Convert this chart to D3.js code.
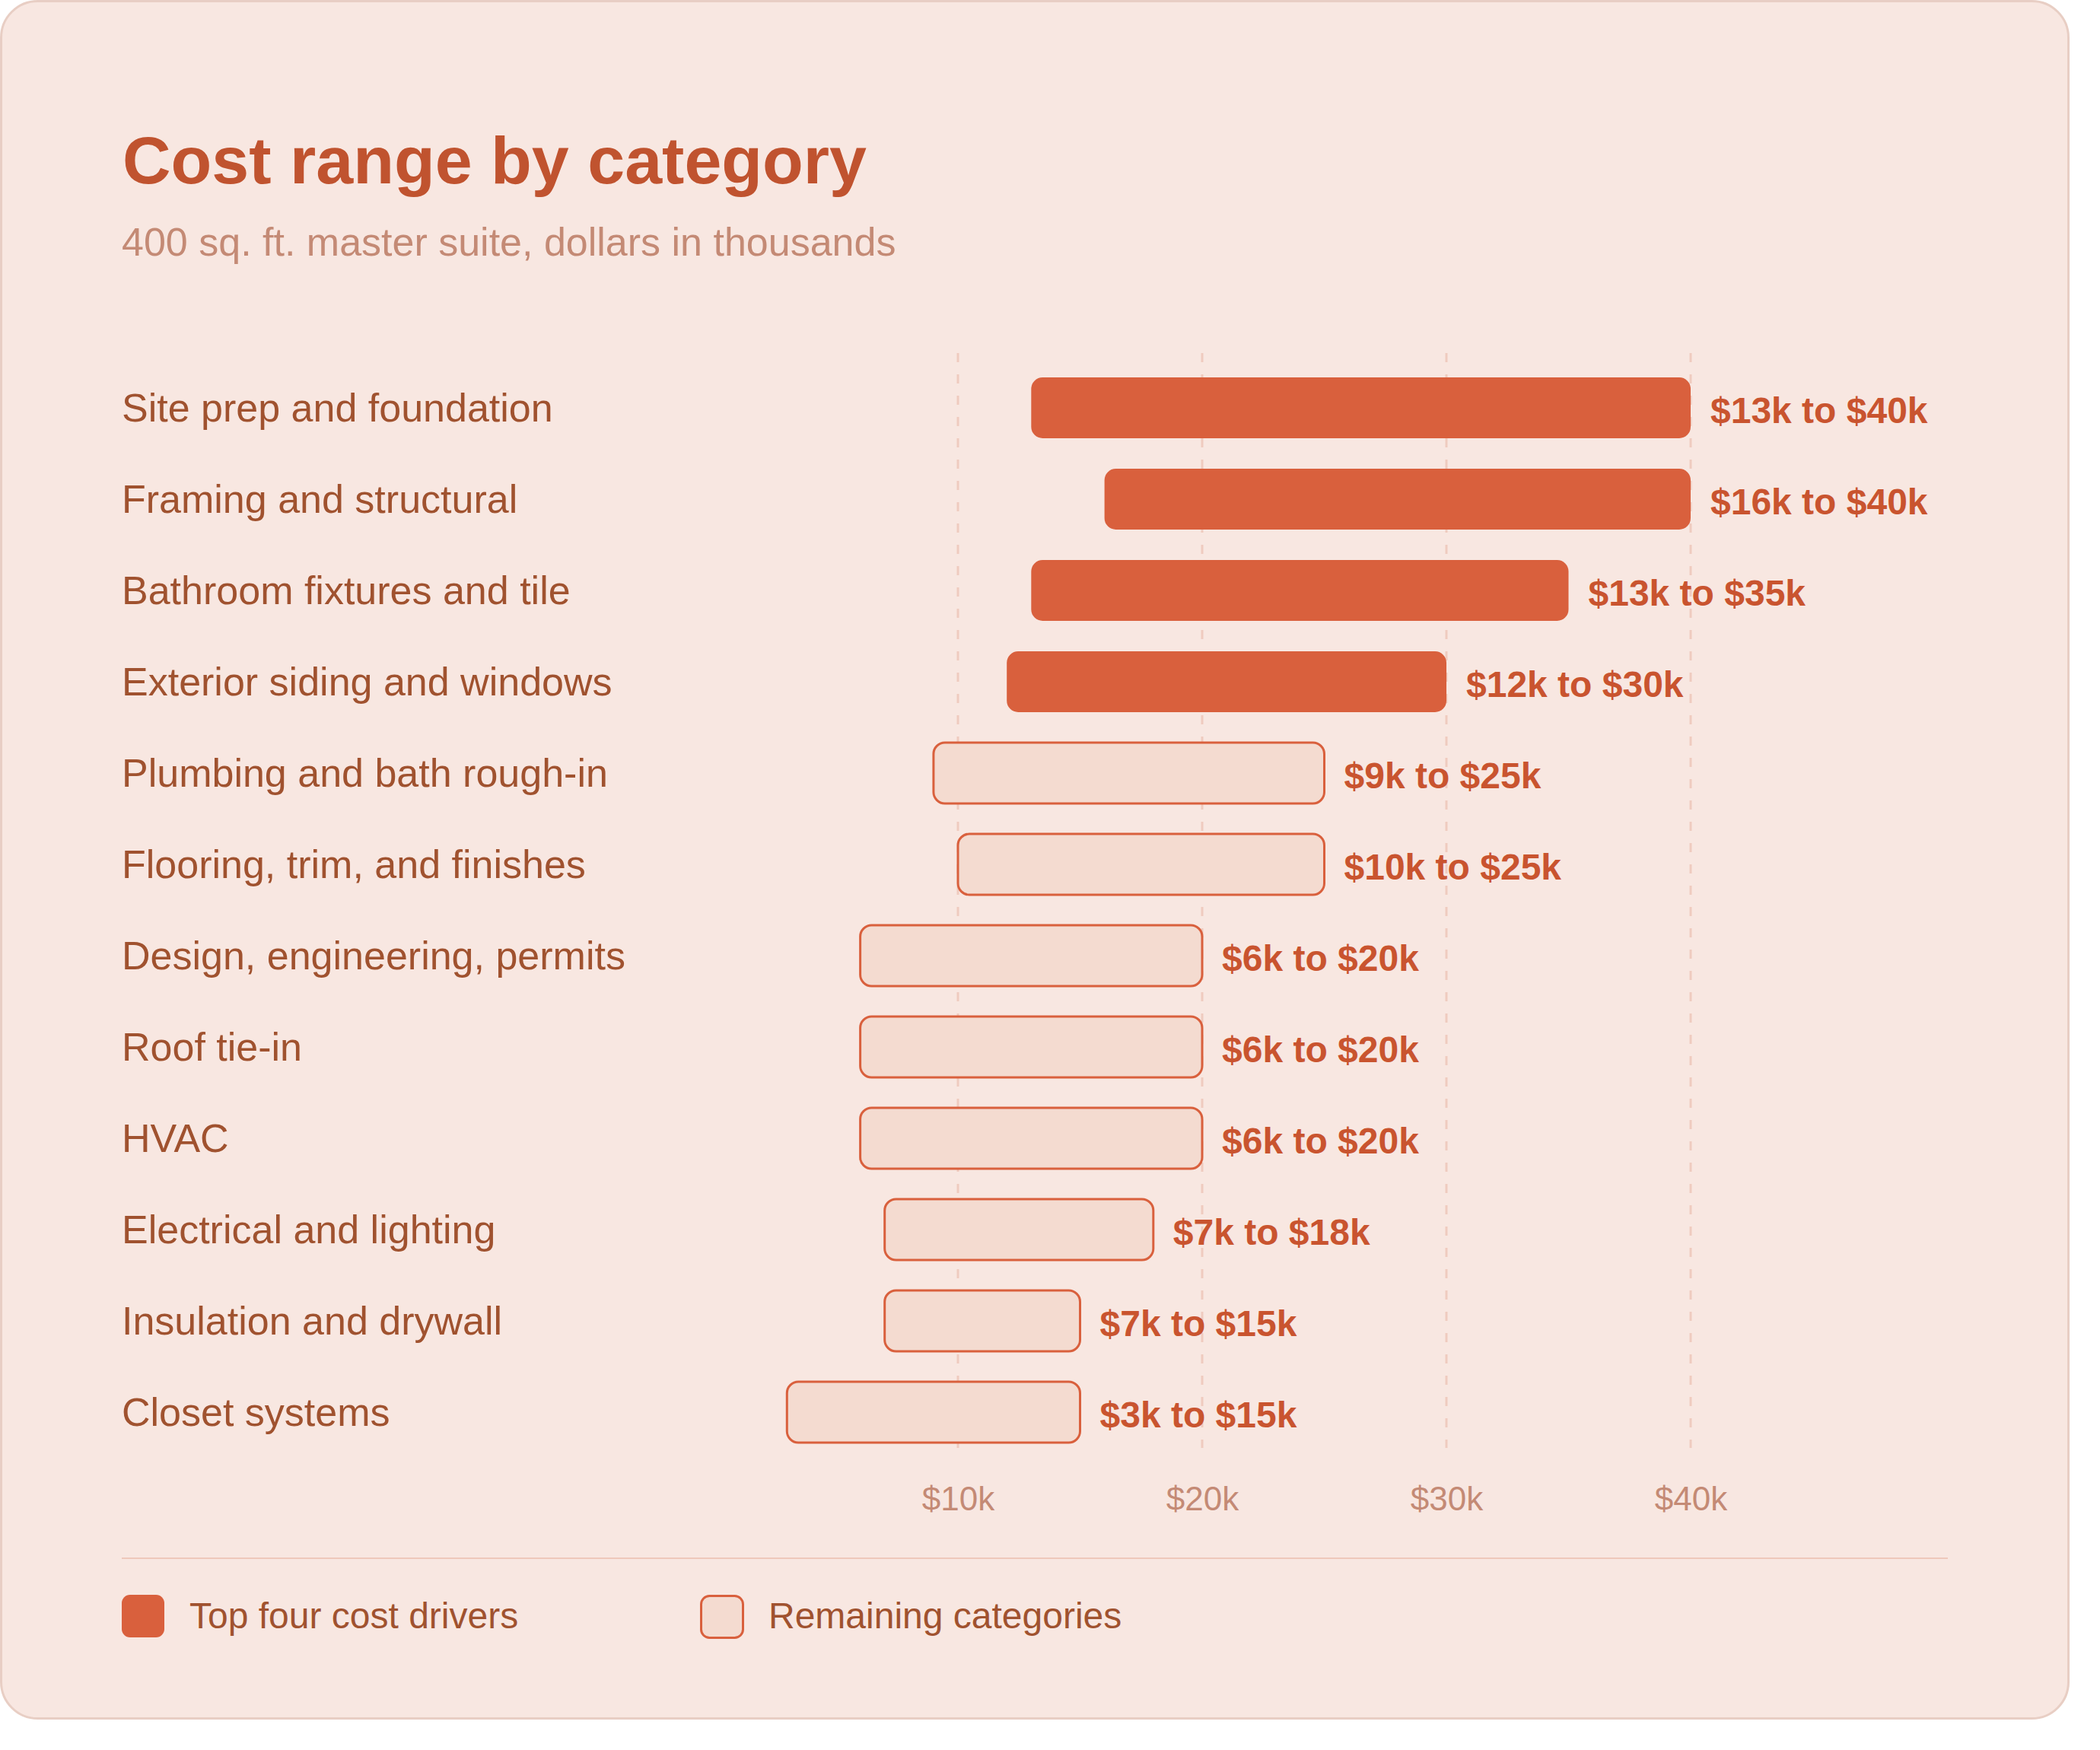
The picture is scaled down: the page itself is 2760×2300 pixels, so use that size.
<!DOCTYPE html>
<html>
<head>
<meta charset="utf-8">
<script src="https://cdn.jsdelivr.net/npm/d3@7"></script>
<style>
  html, body { margin: 0; padding: 0; background: #ffffff; }
  svg { display: block; }
  text { font-family: "Liberation Sans", Arial, Helvetica, sans-serif; }
</style>
</head>
<body>
<svg id="chart" width="2760" height="2300"></svg>
<script>
const categories = [
  "Site prep and foundation",
  "Framing and structural",
  "Bathroom fixtures and tile",
  "Exterior siding and windows",
  "Plumbing and bath rough-in",
  "Flooring, trim, and finishes",
  "Design, engineering, permits",
  "Roof tie-in",
  "HVAC",
  "Electrical and lighting",
  "Insulation and drywall",
  "Closet systems"
];
const lowValues  = [13, 16, 13, 12, 9, 10, 6, 6, 6, 7, 7, 3];
const highValues = [40, 40, 35, 30, 25, 25, 20, 20, 20, 18, 15, 15];
const isTopDriver = [true, true, true, true, false, false, false, false, false, false, false, false];
const tickValues = [10, 20, 30, 40];
const legendLabels = ["Top four cost drivers", "Remaining categories"];
const titleText = "Cost range by category";
const subtitleText = "400 sq. ft. master suite, dollars in thousands";

const rows = categories.map((c, i) => ({
  cat: c, lo: lowValues[i], hi: highValues[i], top: isTopDriver[i]
}));

const C = {
  card: "#f8e7e1", cardStroke: "#e8cec4",
  title: "#c0532f", sub: "#c48a75",
  label: "#a0522f", bar: "#d9603d", light: "#f4dbd0",
  value: "#c9542f", grid: "#efcbbf", rule: "#efc8bb"
};

const svg = d3.select("#chart");

svg.append("rect")
  .attr("x", 1.5).attr("y", 1.5)
  .attr("width", 2717).attr("height", 2257)
  .attr("rx", 48).attr("ry", 48)
  .attr("fill", C.card).attr("stroke", C.cardStroke).attr("stroke-width", 3);

svg.append("text").attr("x", 161).attr("y", 241)
  .attr("font-size", 88).attr("font-weight", 700).attr("fill", C.title)
  .text(titleText);

svg.append("text").attr("x", 160).attr("y", 336)
  .attr("font-size", 52).attr("fill", C.sub)
  .text(subtitleText);

const x = d3.scaleLinear().domain([0, 40]).range([938, 2222]);
const y = d3.scalePoint().domain(categories).range([536, 1856]);
const barH = 80;

// gridlines
svg.append("g").selectAll("line").data(tickValues).join("line")
  .attr("x1", d => x(d)).attr("x2", d => x(d))
  .attr("y1", 464).attr("y2", 1903)
  .attr("stroke", C.grid).attr("stroke-width", 3)
  .attr("stroke-dasharray", "12,16");

// category labels
svg.append("g").selectAll("text").data(rows).join("text")
  .attr("x", 160).attr("y", d => y(d.cat) + 18)
  .attr("font-size", 52).attr("fill", C.label)
  .text(d => d.cat);

// bars
svg.append("g").selectAll("rect").data(rows).join("rect")
  .attr("x", d => x(d.lo))
  .attr("y", d => y(d.cat) - barH / 2)
  .attr("width", d => x(d.hi) - x(d.lo))
  .attr("height", barH)
  .attr("rx", 15).attr("ry", 15)
  .attr("fill", d => d.top ? C.bar : C.light)
  .attr("stroke", d => d.top ? "none" : C.bar)
  .attr("stroke-width", d => d.top ? 0 : 3);

// value labels
svg.append("g").selectAll("text").data(rows).join("text")
  .attr("x", d => x(d.hi) + 26)
  .attr("y", d => y(d.cat) + 20)
  .attr("font-size", 48).attr("font-weight", 700).attr("fill", C.value)
  .text(d => `$${d.lo}k to $${d.hi}k`);

// axis
const axis = d3.axisBottom(x).tickValues(tickValues).tickSize(0).tickFormat(d => `$${d}k`);
const gAxis = svg.append("g").attr("transform", "translate(0,1985)").call(axis);
gAxis.select(".domain").remove();
gAxis.selectAll("text")
  .attr("y", 0).attr("dy", 0)
  .attr("font-size", 44)
  .attr("font-family", "'Liberation Sans', Arial, Helvetica, sans-serif")
  .attr("fill", C.sub);

// separator
svg.append("line").attr("x1", 160).attr("x2", 2560)
  .attr("y1", 2048).attr("y2", 2048)
  .attr("stroke", C.rule).attr("stroke-width", 2);

// legend
const legendX = [160, 920];
const lg = svg.append("g").selectAll("g").data(legendLabels).join("g")
  .attr("transform", (d, i) => `translate(${legendX[i]},2096)`);
lg.append("rect")
  .attr("x", (d, i) => i === 0 ? 0 : 1.5).attr("y", (d, i) => i === 0 ? 0 : 1.5)
  .attr("width", (d, i) => i === 0 ? 56 : 55).attr("height", (d, i) => i === 0 ? 56 : 55)
  .attr("rx", 11).attr("ry", 11)
  .attr("fill", (d, i) => i === 0 ? C.bar : C.light)
  .attr("stroke", (d, i) => i === 0 ? "none" : C.bar)
  .attr("stroke-width", (d, i) => i === 0 ? 0 : 3);
lg.append("text")
  .attr("x", (d, i) => i === 0 ? 89 : 90).attr("y", 44)
  .attr("font-size", 48).attr("fill", C.label)
  .text(d => d);
</script>
</body>
</html>
